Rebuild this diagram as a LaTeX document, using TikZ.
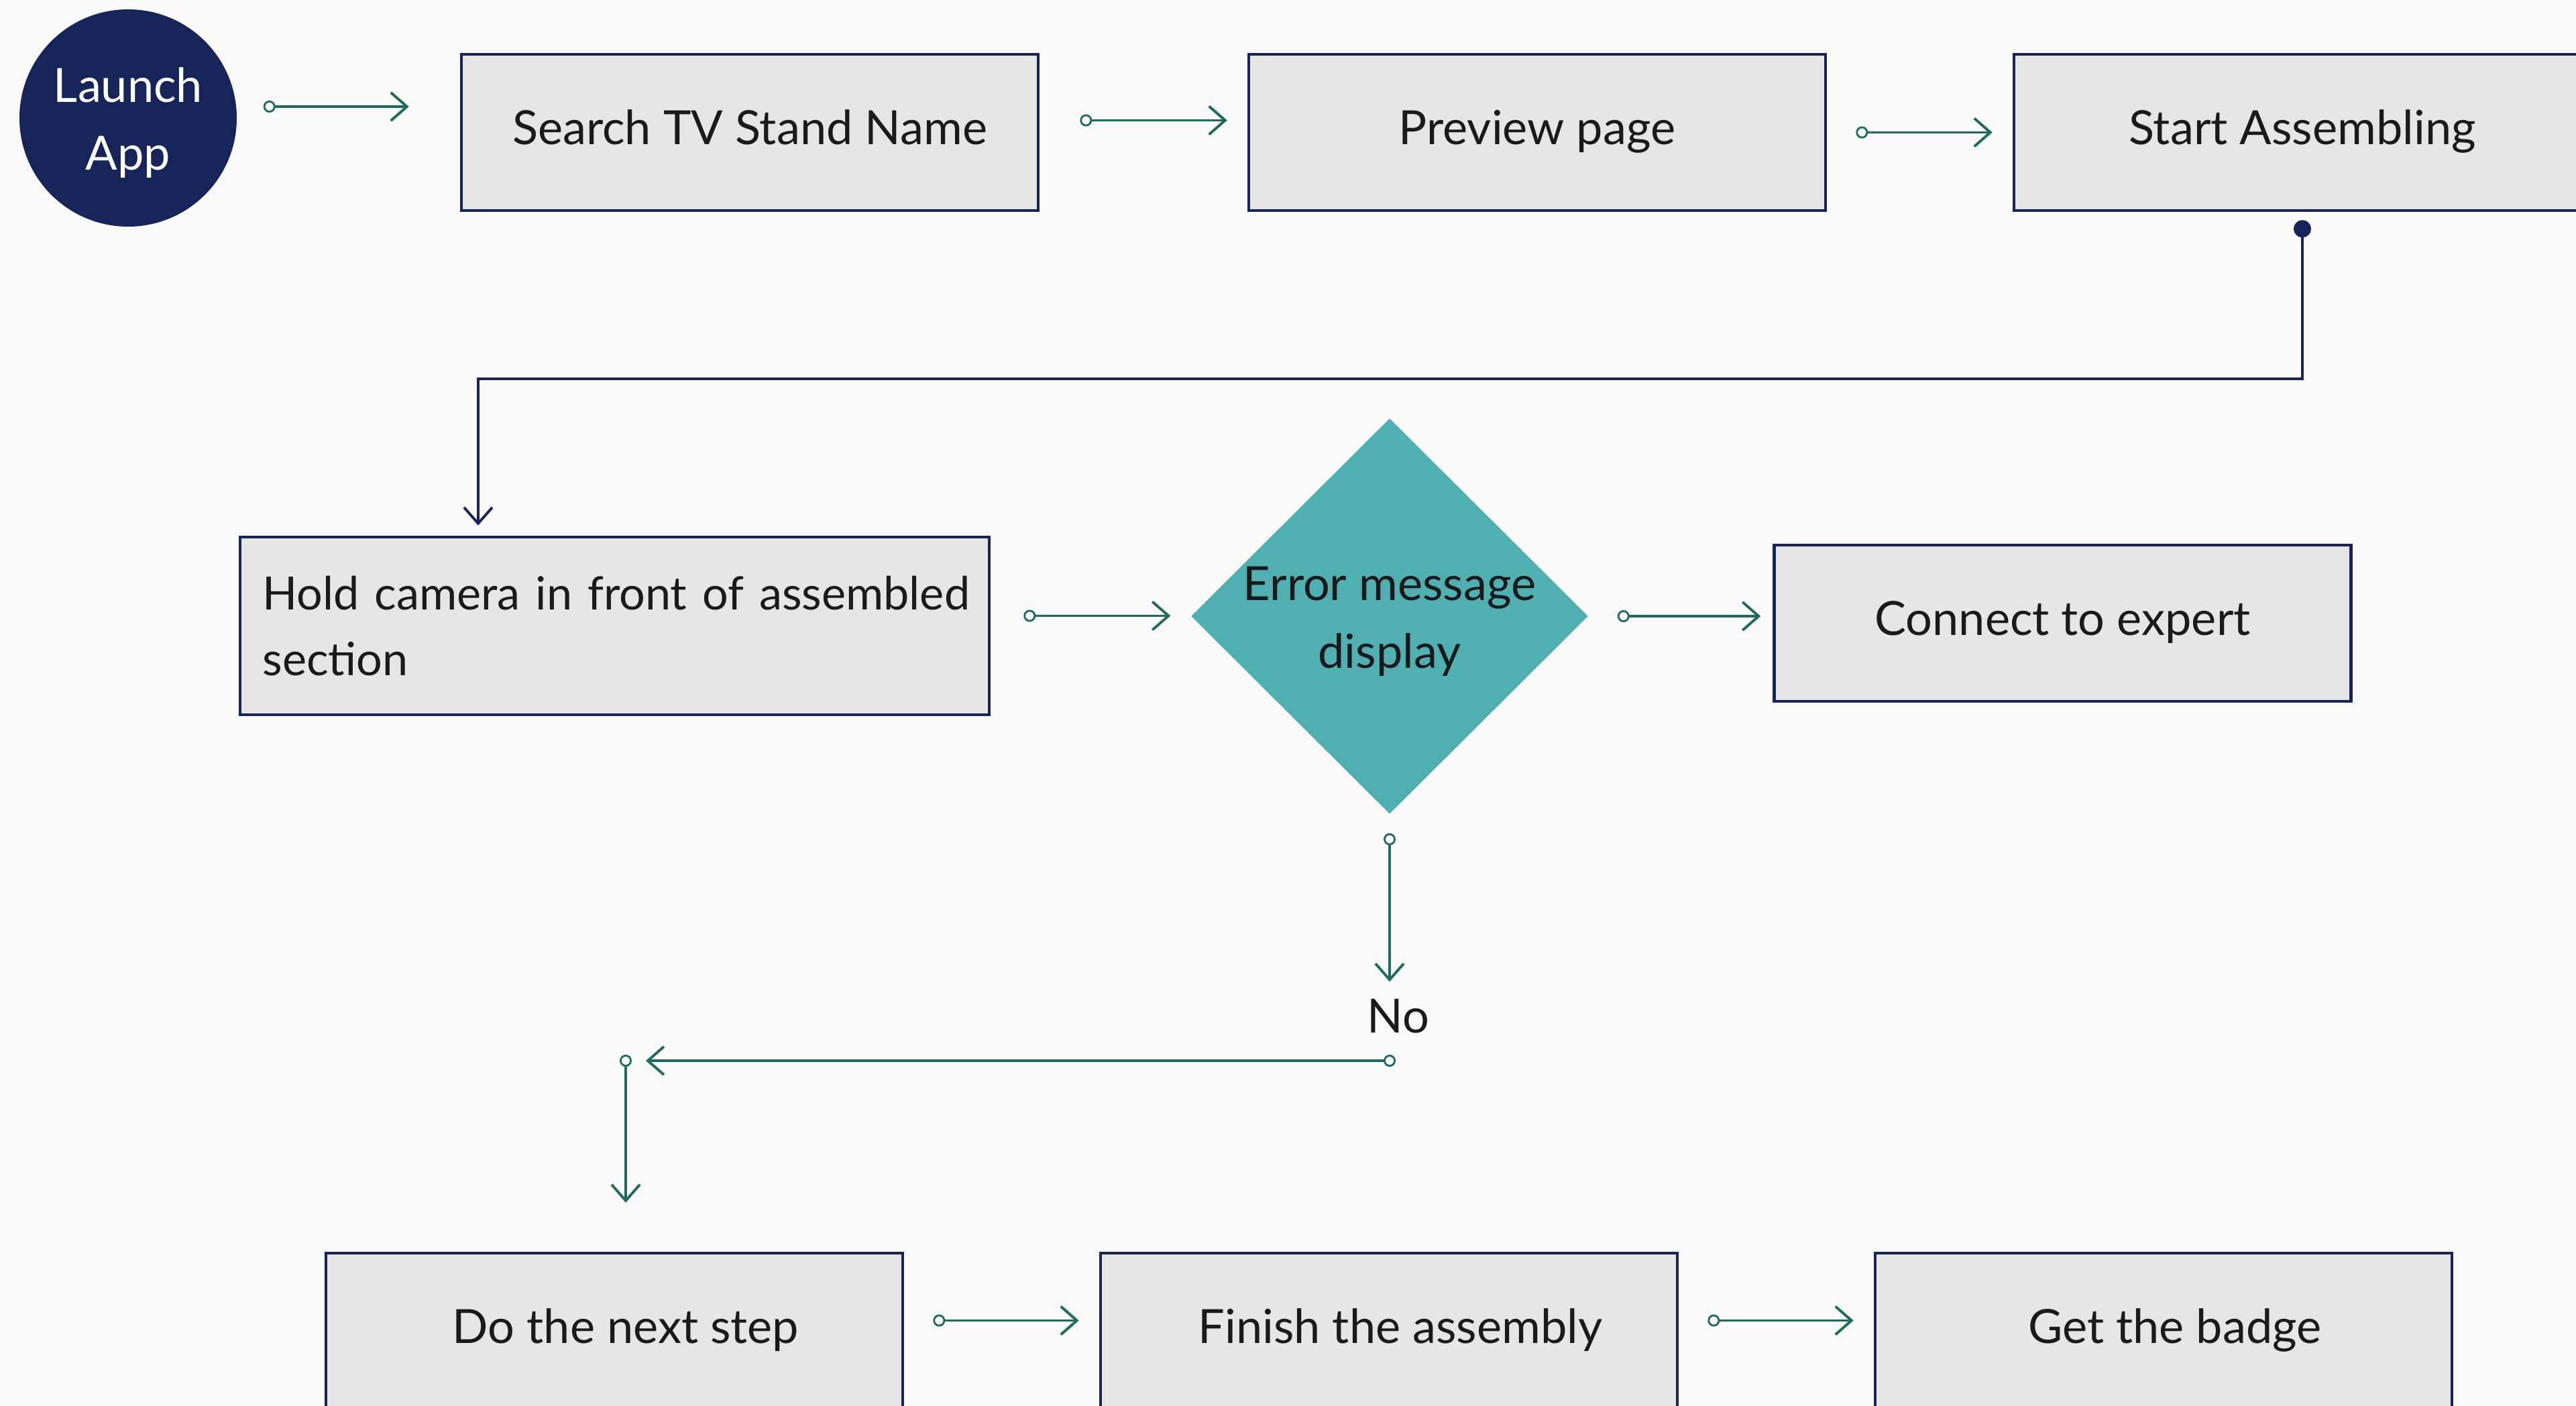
\documentclass[tikz,border=0pt]{standalone}
\usepackage{fontspec}
\setmainfont{Lato}
\usepackage{xcolor}
\usepackage{tikz}
\usetikzlibrary{arrows.meta,shapes.geometric}

\definecolor{navy}{HTML}{17245A}
\definecolor{boxgray}{HTML}{E6E6E6}
\definecolor{paper}{HTML}{FAFAFA}
\definecolor{linkgreen}{HTML}{1F6A5E}
\definecolor{diamondteal}{HTML}{50AFB1}
\definecolor{ink}{HTML}{1A1A1A}

% line lowered without changing the node size
\newcommand{\lowline}[1]{\raisebox{-2.7mm}[0pt][0pt]{#1}}

\begin{document}
\begin{tikzpicture}
	[
	plainbox/.style={
		draw=navy,
		fill=boxgray,
		line width=1.3pt,
		align=center,
		minimum width=86mm,
		minimum height=23.3mm,
		text=ink,
		font=\fontsize{20}{28}\selectfont
	},
	box/.style={
		plainbox,
		text height=15pt,
		text depth=4.5pt
	},
	startbox/.style={
		circle,
		fill=navy,
		minimum size=32.4mm,
		align=center,
		text=white,
		font=\fontsize{20}{28.5}\selectfont
	},
	decision/.style={
		diamond,
		fill=diamondteal,
		minimum width=59.2mm,
		minimum height=59mm,
		inner sep=0pt,
		align=center,
		text=ink,
		font=\fontsize{20}{28.5}\selectfont
	},
	link/.style={
		{Circle[open,length=1.8mm,line width=0.8pt]}-{Straight Barb[length=2.4mm,width=4.2mm]},
		draw=linkgreen,
		line width=1.1pt,
		shorten <=4.3mm,
		shorten >=3mm
	},
	elbow/.style={
		{Circle[length=2.6mm]}-{Straight Barb[length=2.4mm,width=4.2mm]},
		draw=navy,
		line width=1.1pt
	}
	]
	
	% page
	\fill[paper] (0,0) rectangle (38.41,-20.97);
	\useasboundingbox (0,0) rectangle (38.41,-20.97);
	
	% first row
	\node[startbox] (launch) at (1.91,-1.76)
	{\lowline{Launch}\\\lowline{App}};
	
	\node[box] (search) at (11.18,-1.975)
	{Search TV Stand Name};
	
	\node[box] (preview) at (22.92,-1.975)
	{Preview page};
	
	\node[box] (start) at (34.33,-1.975)
	{Start Assembling};
	
	% second row
	\node[plainbox, minimum width=111.7mm, minimum height=26.5mm,
		text width=105mm, inner xsep=2.7mm, align=left,
		font=\fontsize{19.45}{28}\selectfont] (hold) at (9.165,-9.335)
	{\mbox{Hold camera in front of assembled}\\section};
	
	\node[decision] (error) at (20.72,-9.19)
	{\lowline{Error message}\\\lowline{display}};
	
	\node[box] (connect) at (30.755,-9.295)
	{Connect to expert};
	
	% no branch
	\node[text=ink, font=\fontsize{20}{24}\selectfont] (no) at (20.85,-15.16)
	{No};
	\coordinate (noout) at (20.81,-15.82);
	\coordinate (turn) at (9.33,-15.82);
	
	% last row
	\node[box] (next) at (9.16,-19.855)
	{\hspace*{3.4mm}Do the next step};
	
	\node[box] (finish) at (20.71,-19.855)
	{\hspace*{3.4mm}Finish the assembly};
	
	\node[box] (badge) at (32.26,-19.855)
	{\hspace*{3.4mm}Get the badge};
	
	% Arrows
	\draw[link, shorten <=3.9mm, shorten >=7.6mm]
		([yshift=1.7mm]launch.east) -- ([yshift=1.7mm]launch.east -| search.west);
	\draw[link, shorten <=6mm]
		([yshift=1.8mm]search.east) -- ([yshift=1.8mm]search.east -| preview.west);
	\draw[link]
		(preview.east) -- (start.west);
	
	\draw[elbow] ([yshift=-1.2mm]start.south) -- ++(0,-2.37)
		-| ([xshift=-20.35mm,yshift=1.5mm]hold.north);
	
	\draw[link, shorten <=4.9mm]
		([yshift=1.5mm]hold.east) -- ([yshift=1.5mm]hold.east -| error.west);
	\draw[link, shorten >=1.8mm]
		(error.east) -- (error.east -| connect.west);
	
	\draw[link, shorten <=2.8mm, shorten >=1.4mm]
		(error.south) -- (no.north -| error.south);
	\draw[link, shorten <=0mm]
		(noout) -- (turn);
	\draw[link, shorten <=-0.9mm, shorten >=7.3mm]
		(turn) -- (turn |- next.north);
	
	\draw[link]
		([yshift=1.6mm]next.east) -- ([yshift=1.6mm]next.east -| finish.west);
	\draw[link]
		([yshift=1.6mm]finish.east) -- ([yshift=1.6mm]finish.east -| badge.west);
	
\end{tikzpicture}
\end{document}
